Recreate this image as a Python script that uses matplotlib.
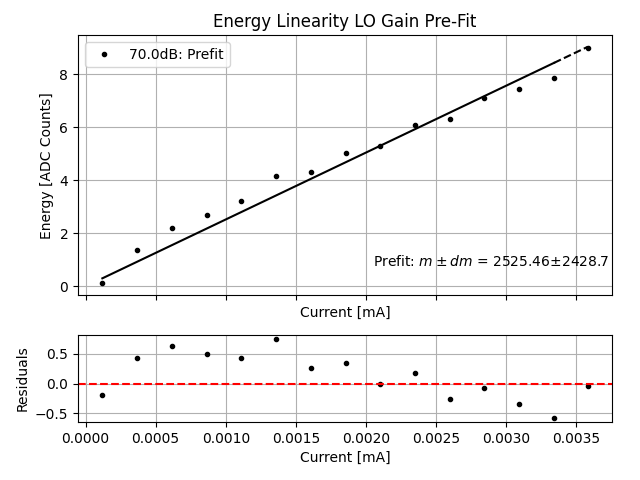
import numpy as np
import matplotlib
matplotlib.use("Agg")
import matplotlib.pyplot as plt

# current [mA] and energy [ADC counts]
current = np.array([0.00012, 0.00037, 0.00062, 0.000865, 0.00111, 0.00136, 0.00161,
                    0.00186, 0.00210, 0.00235, 0.00260, 0.00284, 0.00309, 0.00334,
                    0.00358])
energy = np.array([0.11, 1.36, 2.19, 2.68, 3.24, 4.18, 4.33, 5.04, 5.29, 6.11,
                   6.31, 7.10, 7.46, 7.86, 9.00])
m, dm = 2525.46, 2428.7
gain_label = "70.0dB: Prefit"

fit = m * current
resid = energy - fit

fig, (ax, axr) = plt.subplots(2, 1, figsize=(6.4, 4.8),
                              gridspec_kw={"height_ratios": [3, 1]})

ax.plot(current, energy, "k.", label=gain_label)
ax.plot(current[:-1], fit[:-1], "k-")
ax.plot(current[-2:], fit[-2:], "k--")
ax.set_title("Energy Linearity LO Gain Pre-Fit")
ax.set_xlabel("Current [mA]")
ax.set_ylabel("Energy [ADC Counts]")
ax.tick_params(axis="x", labelbottom=False)
ax.grid(True)
ax.legend(loc="upper left")
ax.text(0.995, 0.13, r"Prefit: $m \pm dm$ = %.2f$\pm$%.1f" % (m, dm),
        transform=ax.transAxes, ha="right", va="center")

axr.plot(current, resid, "k.")
axr.axhline(0, color="r", ls="--")
axr.set_xlabel("Current [mA]")
axr.set_ylabel("Residuals")
axr.grid(True)
axr.set_xlim(ax.get_xlim())

fig.subplots_adjust(left=0.122, right=0.956, top=0.927, bottom=0.121, hspace=0.23)
fig.savefig("out.png", dpi=100)
